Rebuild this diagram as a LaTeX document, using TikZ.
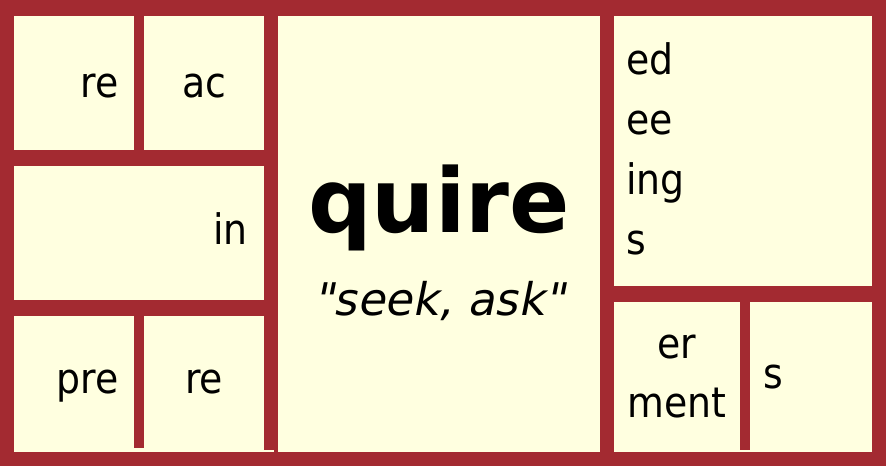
\documentclass[tikz,border=0pt]{standalone}
\usepackage{fontspec}
\setmainfont{DejaVu Sans}
\newfontfamily\condfont{DejaVu Sans Condensed}
\newfontfamily\glossfont{DejaVu Sans}[UprightFont=*, FakeSlant=0.2]
\definecolor{framered}{HTML}{A32A31}
\definecolor{cellyellow}{HTML}{FFFFE0}
\begin{document}
\begin{tikzpicture}[x=1pt,y=-1pt,
  cellbox/.style={fill=cellyellow},
  sepbar/.style={fill=framered},
  lbl/.style={font=\condfont\fontsize{42}{48}\selectfont, inner sep=0pt, text=black},
  rootlbl/.style={font=\fontsize{89}{100}\selectfont\bfseries, inner sep=0pt, text=black},
  glosslbl/.style={font=\glossfont\fontsize{45}{54}\selectfont, inner sep=0pt, text=black}]
\fill[framered] (0,0) rectangle (886,466);
\useasboundingbox (0,0) rectangle (886,466);
% left column
\path[cellbox] (14,16) rectangle (134,150);
\path[cellbox] (144,16) rectangle (264,150);
\path[cellbox] (14,166) rectangle (264,300);
\path[cellbox] (14,316) rectangle (274,452);
\path[sepbar] (134,316) rectangle (144,448);
\path[sepbar] (264,316) rectangle (278,450);
% centre
\path[cellbox] (278,16) rectangle (600,452);
% right column
\path[cellbox] (614,16) rectangle (872,286);
\path[cellbox] (614,302) rectangle (872,452);
\path[sepbar] (740,302) rectangle (750,450);
% labels
\node[lbl, anchor=base east] (re1) at (119,97) {re};
\node[lbl, anchor=base] (ac) at (204,97) {ac};
\node[lbl, anchor=base east] (in) at (248,244) {in};
\node[lbl, anchor=base east] (pre) at (119,393) {pre};
\node[lbl, anchor=base] (re2) at (204,393) {re};
\node[rootlbl, anchor=base] (quire) at (439,232) {quire};
\node[glosslbl, anchor=base] (gloss) at (439,315) {"seek, ask"};
\node[lbl, anchor=base west] (ed) at (626,74) {ed};
\node[lbl, anchor=base west] (ee) at (626,134) {ee};
\node[lbl, anchor=base west] (ing) at (626,194) {ing};
\node[lbl, anchor=base west] (s1) at (626,254) {s};
\node[lbl, anchor=base] (er) at (677,358) {er};
\node[lbl, anchor=base] (ment) at (677,417) {ment};
\node[lbl, anchor=base west] (s2) at (763,388) {s};
\end{tikzpicture}
\end{document}
